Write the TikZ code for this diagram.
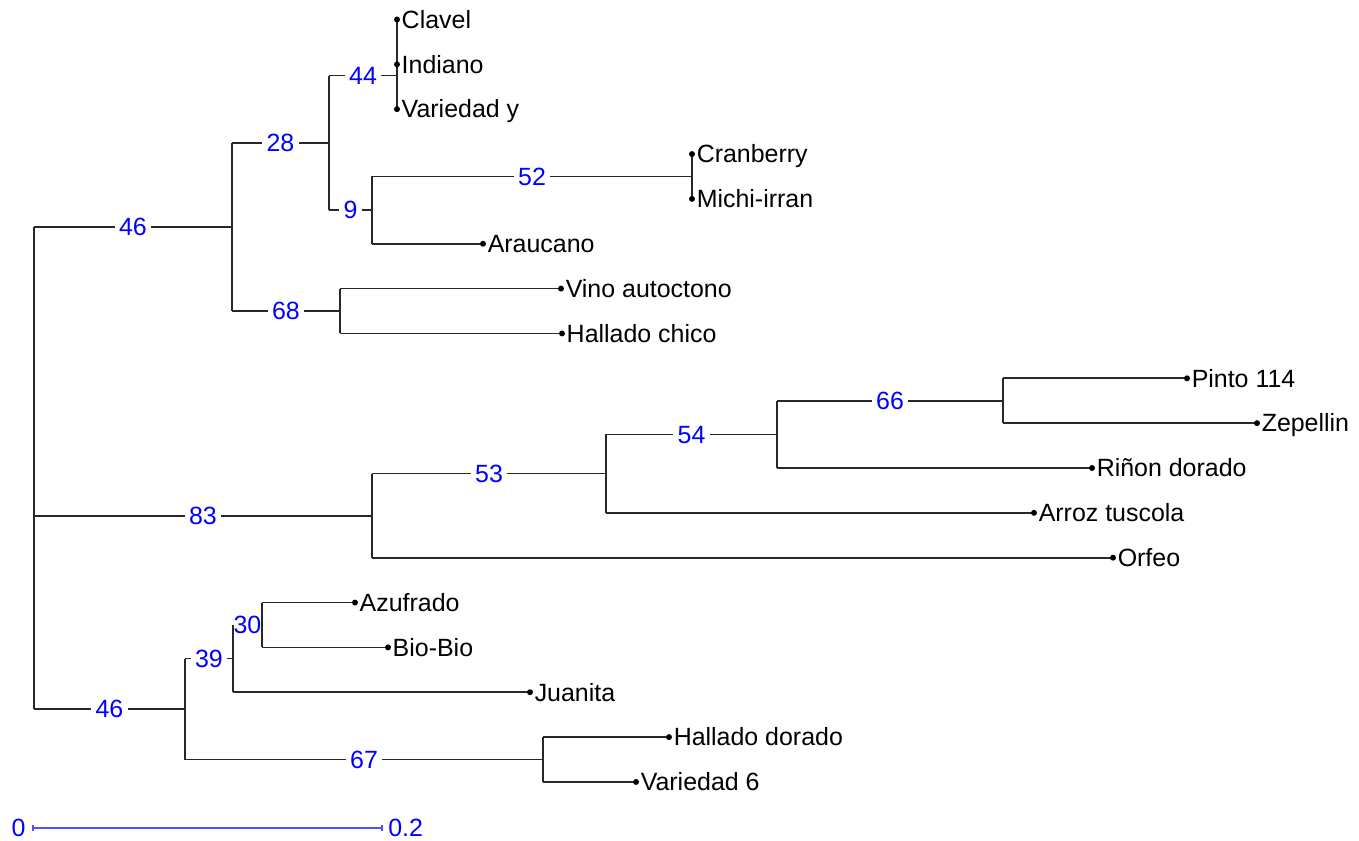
\documentclass[tikz,border=0pt]{standalone}
\usepackage{fontspec}
\setmainfont{Liberation Sans}
\definecolor{barblue}{RGB}{80,80,255}
\definecolor{linegray}{RGB}{40,40,40}
\begin{document}
\begin{tikzpicture}[x=0.02cm,y=-0.02cm,
  br/.style={line width=0.95pt, draw=linegray},
  bs/.style={fill=white, text=blue, inner xsep=2.5pt, inner ysep=0pt, text height=10pt, text depth=0pt, font=\fontsize{14.2}{16}\selectfont},
  leaf/.style={anchor=west, inner sep=0pt, text height=10pt, text depth=0pt, font=\fontsize{14.2}{16}\selectfont},
  sclab/.style={text=blue, inner sep=0pt, text height=10pt, text depth=0pt, font=\fontsize{14.2}{16}\selectfont}]
\useasboundingbox (0,0) rectangle (1359,841);
% leaves
\foreach \n/\x/\y/\t in {clavel/397/19.5/Clavel, indiano/397/64.35/Indiano, vary/397/109.2/Variedad y,
  cran/692/154.05/Cranberry, michi/692/198.9/Michi-irran, arauc/483/243.75/Araucano,
  vino/561/288.6/Vino autoctono, hchico/562/333.45/Hallado chico,
  pinto/1187/378.3/Pinto 114, zep/1257/423.15/Zepellin, rinon/1092/468/Riñon dorado,
  arroz/1034/512.85/Arroz tuscola, orfeo/1113/557.7/Orfeo,
  azuf/355/602.55/Azufrado, bio/388/647.4/Bio-Bio, juan/530/692.25/Juanita,
  hdor/669/737.1/Hallado dorado, var6/636/781.95/Variedad 6}
  {\coordinate (\n) at (\x,\y);
   \node[leaf] (t\n) at ([xshift=2.5pt]\n) {\t};}
% internal nodes
\coordinate (root) at (34,468);
\coordinate (nA) at (232,227);
\coordinate (n28) at (329,142.9);
\coordinate (n44) at (397,75.6);
\coordinate (n9) at (372,210.1);
\coordinate (n52) at (692,176.5);
\coordinate (n68) at (340,311);
\coordinate (nB) at (372,515.7);
\coordinate (n53) at (606,473.6);
\coordinate (n54) at (777,434.4);
\coordinate (n66) at (1003,400.7);
\coordinate (nC) at (185,709);
\coordinate (n39) at (233,658.6);
\coordinate (n30) at (262,625);
\coordinate (n67) at (543,759.5);
% horizontal branches with support values
\draw[br] (root |- nA) -- (nA) node[bs,midway]{46};
\draw[br] (root |- nB) -- (nB) node[bs,midway]{83};
\draw[br] (root |- nC) -- (nC) node[bs,midway]{46};
\draw[br] (nA |- n28) -- (n28) node[bs,midway]{28};
\draw[br] (nA |- n68) -- (n68) node[bs,midway]{68};
\draw[br] (n28 |- n44) -- (n44) node[bs,midway]{44};
\draw[br] (n28 |- n9) -- (n9) node[bs,midway]{9};
\draw[br] (n9 |- n52) -- (n52) node[bs,midway]{52};
\draw[br] (n9 |- arauc) -- (arauc);
\draw[br] (n68 |- vino) -- (vino);
\draw[br] (n68 |- hchico) -- (hchico);
\draw[br] (nB |- n53) -- (n53) node[bs,midway]{53};
\draw[br] (nB |- orfeo) -- (orfeo);
\draw[br] (n53 |- n54) -- (n54) node[bs,midway]{54};
\draw[br] (n53 |- arroz) -- (arroz);
\draw[br] (n54 |- n66) -- (n66) node[bs,midway]{66};
\draw[br] (n54 |- rinon) -- (rinon);
\draw[br] (n66 |- pinto) -- (pinto);
\draw[br] (n66 |- zep) -- (zep);
\draw[br] (nC |- n39) -- (n39) node[bs,midway]{39};
\draw[br] (nC |- n67) -- (n67) node[bs,midway]{67};
\draw[br] (n39 |- n30) -- (n30) node[bs,midway]{30};
\draw[br] (n39 |- juan) -- (juan);
\draw[br] (n30 |- azuf) -- (azuf);
\draw[br] (n30 |- bio) -- (bio);
\draw[br] (n67 |- hdor) -- (hdor);
\draw[br] (n67 |- var6) -- (var6);
% vertical connectors
\draw[br] (root |- nA) -- (root |- nC);
\draw[br] (nA |- n28) -- (nA |- n68);
\draw[br] (n28 |- n44) -- (n28 |- n9);
\draw[br] (clavel) -- (vary);
\draw[br] (n9 |- n52) -- (n9 |- arauc);
\draw[br] (cran) -- (michi);
\draw[br] (n68 |- vino) -- (n68 |- hchico);
\draw[br] (nB |- n53) -- (nB |- orfeo);
\draw[br] (n53 |- n54) -- (n53 |- arroz);
\draw[br] (n54 |- n66) -- (n54 |- rinon);
\draw[br] (n66 |- pinto) -- (n66 |- zep);
\draw[br] (nC |- n39) -- (nC |- n67);
\draw[br] (n39 |- n30) -- (n39 |- juan);
\draw[br] (n30 |- azuf) -- (n30 |- bio);
\draw[br] (n67 |- hdor) -- (n67 |- var6);
% leaf dots
\foreach \n in {clavel,indiano,vary,cran,michi,arauc,vino,hchico,pinto,zep,rinon,arroz,orfeo,azuf,bio,juan,hdor,var6}
  {\fill[black] (\n) circle[radius=1.7pt];}
% scale bar
\coordinate (s0) at (33,828);
\coordinate (s1) at (382,828);
\draw[barblue, line width=0.9pt] (s0) -- (s1);
\draw[barblue, line width=0.9pt] ([yshift=-1.7pt]s0) -- ([yshift=1.7pt]s0);
\draw[barblue, line width=0.9pt] ([yshift=-1.7pt]s1) -- ([yshift=1.7pt]s1);
\node[sclab, anchor=east] (l0) at ([xshift=-4pt]s0) {0};
\node[sclab, anchor=west] (l1) at ([xshift=3.4pt]s1) {0.2};
\end{tikzpicture}
\end{document}
